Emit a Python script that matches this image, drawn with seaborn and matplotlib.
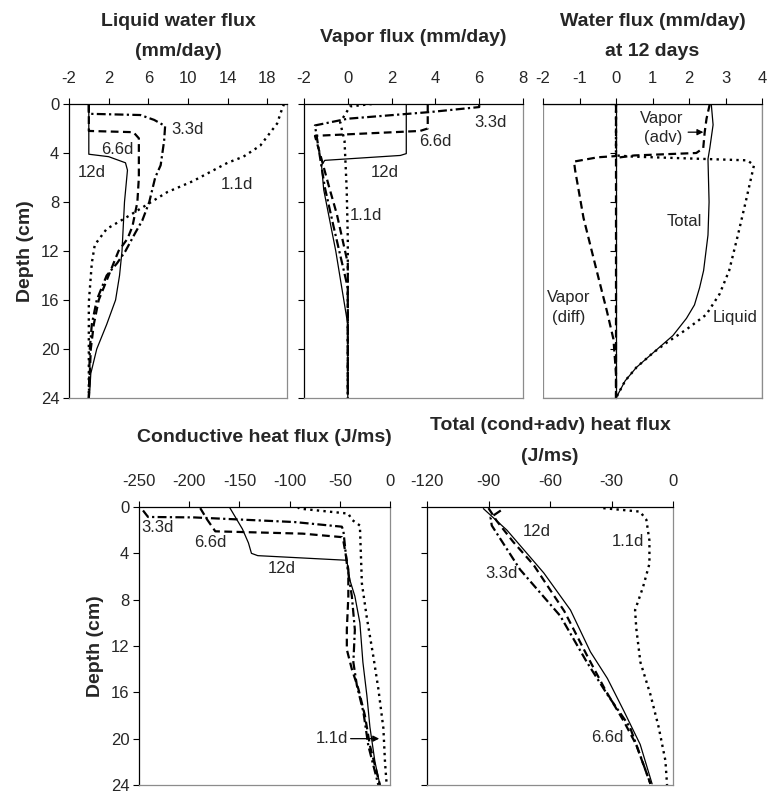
import numpy as np
import pandas as pd
import seaborn as sns
import matplotlib.pyplot as plt
from matplotlib import font_manager
from matplotlib.patches import Rectangle

# ---- liquid water flux (mm/day) ----
liq_11_d = [0, 0.4, 1.6, 3.4, 4.3, 4.8, 6.3, 7.2, 8.2, 9.2, 10.2, 11.5, 13, 16.2, 24]
liq_11_v = [19.7, 19.5, 19.0, 17.3, 15.6, 14.0, 10.5, 7.9, 5.9, 3.9, 1.8, 0.6, 0.3, 0.0, 0.0]
liq_33_d = [0, 0.8, 0.9, 1.3, 1.8, 3, 5, 6, 8, 9.5, 10.5, 12, 13, 14, 16, 18, 20, 24]
liq_33_v = [0, 0, 5.2, 6.6, 7.7, 7.6, 7.25, 6.7, 6.1, 5.4, 4.7, 3.7, 2.85, 1.8, 0.8, 0.3, 0.1, 0]
liq_66_d = [0, 2.2, 2.3, 2.8, 6, 8, 10, 11, 12, 14, 16, 18, 20, 24]
liq_66_v = [0, 0, 4.5, 5.05, 5.05, 4.9, 4.4, 3.9, 3.0, 2.0, 1.0, 0.5, 0.2, 0]
liq_12_d = [0, 4.1, 4.3, 4.8, 5.4, 8, 12, 14, 16, 18, 20, 22, 24]
liq_12_v = [0, 0, 2.0, 3.7, 3.9, 3.6, 3.35, 3.1, 2.7, 1.8, 0.8, 0.2, 0.05]

# ---- vapor flux (mm/day) ----
vap_11_d = [0, 0.2, 0.5, 1.5, 3, 7, 11, 24]
vap_11_v = [1.1, 0.1, 0.0, -0.35, -0.15, -0.05, 0, 0]
vap_33_d = [0, 0.25, 0.65, 1.2, 1.75, 4, 6.8, 10, 15, 24]
vap_33_v = [6.0, 6.0, 3.8, 0.0, -1.5, -1.3, -1.05, -0.65, 0, 0]
vap_66_d = [0, 2.0, 2.2, 2.6, 4.5, 6.8, 9, 13, 24]
vap_66_v = [3.65, 3.65, 3.3, -1.5, -1.2, -0.85, -0.5, 0, 0]
vap_12_d = [0, 4.05, 4.2, 4.6, 5.0, 7, 12, 18, 24]
vap_12_v = [2.67, 2.67, 2.4, -1.05, -1.2, -1.1, -0.55, 0, 0]

# ---- water flux at 12 days (mm/day) ----
tot_d = [0, 1.7, 3.6, 4.5, 8, 10.7, 13.6, 15, 16.4, 17.5, 18.9, 20.3, 21.5, 22.6, 24]
tot_v = [2.61, 2.66, 2.57, 2.52, 2.55, 2.52, 2.4, 2.29, 2.15, 1.93, 1.56, 1.02, 0.56, 0.25, 0.0]
liq_d = [0, 4.2, 4.3, 4.6, 5.0, 7.9, 10.7, 13.6, 15.5, 17.2, 18.4, 19.5, 20.3, 21.5, 22.6, 24]
liq_v = [0, 0, 0.5, 3.6, 3.78, 3.56, 3.34, 3.1, 2.84, 2.47, 1.93, 1.38, 1.02, 0.56, 0.25, 0]
vdiff_d = [0, 4.25, 4.35, 4.7, 5.4, 9.3, 13.6, 16.9, 19.2, 22, 24]
vdiff_v = [0, 0, -0.5, -1.15, -1.12, -0.89, -0.53, -0.25, -0.07, 0, 0]
vadv_d = [0, 1.2, 2.3, 3.6, 4.0, 4.2, 4.4, 24]
vadv_v = [2.57, 2.48, 2.43, 2.39, 2.2, 0.5, 0, 0]

# ---- conductive heat flux (J/ms) ----
cond_11_d = [0, 0.14, 0.57, 1.1, 1.6, 6.6, 9.6, 12.9, 15.7, 19.1, 22, 24]
cond_11_v = [-92, -90, -41.5, -38, -30, -28, -23, -16.6, -11.6, -6.6, -5, -3.3]
cond_33_d = [0.3, 0.86, 0.9, 1.3, 1.7, 2.0, 4.9, 7.7, 10.6, 13.4, 15.4, 17.7, 20.6, 24]
cond_33_v = [-246, -241, -195, -95, -48, -46.5, -43, -38, -35, -36.5, -33, -26.5, -21.6, -11.6]
cond_66_d = [0.1, 1.1, 2.1, 2.3, 2.6, 2.9, 5.4, 7.7, 10.6, 12.3, 14, 15.7, 18, 20.6, 24]
cond_66_v = [-189, -182, -174, -87, -48, -46.5, -41.5, -41.5, -43, -43, -38, -31.5, -25, -20, -10]
cond_12_d = [0, 1.9, 3.1, 4.0, 4.2, 4.6, 6.3, 7.7, 10, 13.4, 16.3, 19, 22, 24]
cond_12_v = [-160, -147, -141, -138, -131.7, -43, -40, -35, -30, -27, -23, -20, -15, -10]

# ---- total (cond+adv) heat flux (J/ms) ----
heat_11_d = [0.1, 0.4, 1.1, 2.9, 4.9, 6.9, 8.9, 10.5, 13.4, 16.2, 19.0, 21.9, 24]
heat_11_v = [-34, -16.1, -13, -11.5, -11.5, -14.6, -18.5, -17.9, -15.9, -11, -7, -3.7, -2.9]
heat_33_d = [0.3, 0.9, 1.6, 5.4, 9.4, 13.4, 16.2, 19, 23.9]
heat_33_v = [-84, -89, -88.4, -74.6, -55, -42, -32, -21, -11]
heat_66_d = [0.1, 1.2, 3, 5, 9, 12.8, 15.8, 18.5, 20.5, 23.9]
heat_66_v = [-90, -86, -78, -68, -53, -42, -33, -24, -18, -11]
heat_12_d = [0.14, 2.0, 4.3, 5.7, 8.9, 12.5, 14.8, 17.6, 20.5, 23.9]
heat_12_v = [-92.5, -81, -69.8, -63, -50, -40.3, -32, -24, -16, -10.2]

depth_ticks = [0, 4, 8, 12, 16, 20, 24]

sns.set_style('white')
names = {f.name for f in font_manager.fontManager.ttflist}
fam = 'Liberation Sans Narrow' if 'Liberation Sans Narrow' in names else 'Liberation Sans'
plt.rcParams['font.family'] = [fam, 'DejaVu Sans']
plt.rcParams['axes.unicode_minus'] = False

DOT = (0, (1, 1.8))
DASHDOT = (0, (4, 1.5, 1, 1.5))
DASH = (0, (3.5, 2))
GREY = '#8c8c8c'
styles = {'1.1d': (DOT, 1.7), '3.3d': (DASHDOT, 1.6), '6.6d': (DASH, 1.6), '12d': ('-', 0.9)}

W, H = 767, 797
fig = plt.figure(figsize=(W / 100, H / 100), dpi=100)


def make_ax(x0, x1, y0, y1):
    return fig.add_axes([x0 / W, 1 - y1 / H, (x1 - x0) / W, (y1 - y0) / H])


def draw(ax, d, v, key, **kw):
    ls, lw = styles[key]
    sns.lineplot(x=v, y=d, sort=False, estimator=None, color='black',
                 linestyle=ls, linewidth=lw, ax=ax, **kw)


def style_ax(ax, xlim, xticks, ylabels=True, spine0=None):
    ax.set_xlim(*xlim)
    ax.set_ylim(24, 0)
    ax.set_xticks(xticks)
    ax.set_yticks(depth_ticks)
    ax.xaxis.tick_top()
    ax.tick_params(axis='x', top=True, bottom=False, direction='out', length=4,
                   width=0.8, labelsize=12, pad=9, color='black')
    ax.tick_params(axis='y', left=True, direction='out', length=4, width=0.8,
                   labelsize=12, pad=3, color='black', labelleft=ylabels)
    for s in ['right', 'bottom']:
        ax.spines[s].set_color(GREY)
        ax.spines[s].set_linewidth(0.9)
    for s in ['left', 'top']:
        ax.spines[s].set_color('black')
        ax.spines[s].set_linewidth(0.9)
    if spine0 is not None:
        ax.spines['left'].set_position(('data', spine0))
        ax.add_patch(Rectangle((0, 0), 1, 1, transform=ax.transAxes, fill=False,
                               ec=GREY, lw=0.9, zorder=0))
    ax.set_xlabel('')
    ax.set_ylabel('Depth (cm)' if ylabels else '', fontsize=14, fontweight='bold',
                  labelpad=5)


def label(ax, x, y, s):
    ax.text(x, y, s, fontsize=12, ha='center', va='center')


def title(ax, lines, y0):
    bb = ax.get_position()
    xc = (bb.x0 + bb.x1) / 2
    for i, ln in enumerate(lines):
        fig.text(xc, 1 - (y0 + i * 30) / H, ln, ha='center', va='center',
                 fontsize=14, fontweight='bold')


# --- panel 1 ---
ax1 = make_ax(69, 287, 104, 398)
draw(ax1, liq_11_d, liq_11_v, '1.1d')
draw(ax1, liq_33_d, liq_33_v, '3.3d')
draw(ax1, liq_66_d, liq_66_v, '6.6d')
draw(ax1, liq_12_d, liq_12_v, '12d')
style_ax(ax1, (-2, 20), [-2, 2, 6, 10, 14, 18])
label(ax1, 10.0, 2.1, '3.3d')
label(ax1, 2.9, 3.7, '6.6d')
label(ax1, 0.3, 5.6, '12d')
label(ax1, 14.9, 6.6, '1.1d')
title(ax1, ['Liquid water flux', '(mm/day)'], 21)

# --- panel 2 ---
ax2 = make_ax(304, 523, 104, 398)
draw(ax2, vap_11_d, vap_11_v, '1.1d')
draw(ax2, vap_33_d, vap_33_v, '3.3d')
draw(ax2, vap_66_d, vap_66_v, '6.6d')
draw(ax2, vap_12_d, vap_12_v, '12d')
style_ax(ax2, (-2, 8), [-2, 0, 2, 4, 6, 8], ylabels=False)
label(ax2, 6.5, 1.5, '3.3d')
label(ax2, 4.0, 3.1, '6.6d')
label(ax2, 1.7, 5.6, '12d')
label(ax2, 0.85, 9.1, '1.1d')
title(ax2, ['Vapor flux (mm/day)'], 38)

# --- panel 3 ---
ax3 = make_ax(543, 762, 104, 398)
sns.lineplot(x=tot_v, y=tot_d, sort=False, estimator=None, color='black', lw=0.9, ax=ax3)
sns.lineplot(x=liq_v, y=liq_d, sort=False, estimator=None, color='black', lw=1.7,
             linestyle=DOT, ax=ax3)
sns.lineplot(x=vdiff_v, y=vdiff_d, sort=False, estimator=None, color='black', lw=1.6,
             linestyle=DASH, ax=ax3)
sns.lineplot(x=vadv_v, y=vadv_d, sort=False, estimator=None, color='black', lw=1.6,
             linestyle=DASH, ax=ax3)
style_ax(ax3, (-2, 4), [-2, -1, 0, 1, 2, 3, 4], ylabels=False, spine0=0)
label(ax3, 1.25, 1.2, 'Vapor')
label(ax3, 1.28, 2.75, '(adv)')
ax3.annotate('', xy=(2.47, 2.3), xytext=(1.9, 2.3),
             arrowprops=dict(arrowstyle='-|>', color='black', lw=0.9, mutation_scale=9))
label(ax3, 1.88, 9.6, 'Total')
label(ax3, 3.25, 17.4, 'Liquid')
label(ax3, -1.3, 15.8, 'Vapor')
label(ax3, -1.3, 17.4, '(diff)')
title(ax3, ['Water flux (mm/day)', 'at 12 days'], 21)

# --- panel 4 ---
ax4 = make_ax(139, 390, 507, 785)
draw(ax4, cond_11_d, cond_11_v, '1.1d')
draw(ax4, cond_33_d, cond_33_v, '3.3d')
draw(ax4, cond_66_d, cond_66_v, '6.6d')
draw(ax4, cond_12_d, cond_12_v, '12d')
style_ax(ax4, (-250, 0), [-250, -200, -150, -100, -50, 0])
label(ax4, -232, 1.8, '3.3d')
label(ax4, -179, 3.1, '6.6d')
label(ax4, -108, 5.3, '12d')
label(ax4, -58, 20, '1.1d')
ax4.annotate('', xy=(-8, 20), xytext=(-42, 20),
             arrowprops=dict(arrowstyle='-|>', color='black', lw=0.9, mutation_scale=9))
title(ax4, ['Conductive heat flux (J/ms)'], 438)

# --- panel 5 ---
ax5 = make_ax(427, 673, 507, 785)
draw(ax5, heat_11_d, heat_11_v, '1.1d')
draw(ax5, heat_33_d, heat_33_v, '3.3d')
draw(ax5, heat_66_d, heat_66_v, '6.6d')
draw(ax5, heat_12_d, heat_12_v, '12d')
style_ax(ax5, (-120, 0), [-120, -90, -60, -30, 0], ylabels=False)
label(ax5, -66.5, 2.1, '12d')
label(ax5, -21.8, 3.0, '1.1d')
label(ax5, -83.6, 5.7, '3.3d')
label(ax5, -32.2, 19.9, '6.6d')
title(ax5, ['Total (cond+adv) heat flux', '(J/ms)'], 426)

fig.savefig('out.png', dpi=100)
